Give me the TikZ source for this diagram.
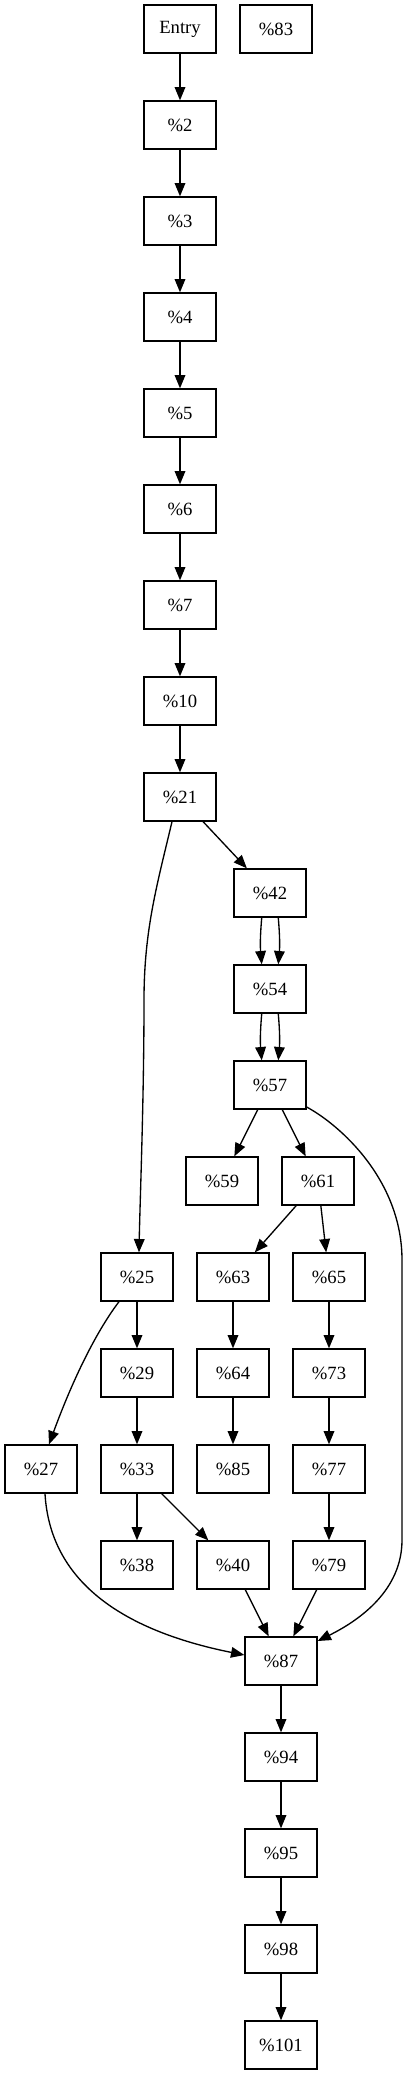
\documentclass[tikz,border=0pt]{standalone}
\usepackage{fontspec}
\setmainfont{Liberation Serif}
\usetikzlibrary{arrows.meta}
\begin{document}
\begin{tikzpicture}[x=0.75pt,y=-0.75pt,
 blk/.style={draw,line width=1pt,minimum width=54pt,minimum height=36pt,inner sep=0pt,font=\fontsize{14pt}{16pt}\selectfont},
 edge/.style={-{Triangle[length=10pt,width=8pt]},line width=1pt}]
\useasboundingbox (0,0) rectangle (409,2075);
\node[blk] (entry) at (180,29) {Entry};
\node[blk] (n83) at (276,29) {\%83};
\node[blk] (n2) at (180,125) {\%2};
\node[blk] (n3) at (180,221) {\%3};
\node[blk] (n4) at (180,317) {\%4};
\node[blk] (n5) at (180,413) {\%5};
\node[blk] (n6) at (180,509) {\%6};
\node[blk] (n7) at (180,605) {\%7};
\node[blk] (n10) at (180,701) {\%10};
\node[blk] (n21) at (180,797) {\%21};
\node[blk] (n42) at (270,893) {\%42};
\node[blk] (n54) at (270,989) {\%54};
\node[blk] (n57) at (270,1085) {\%57};
\node[blk] (n59) at (222,1181) {\%59};
\node[blk] (n61) at (318,1181) {\%61};
\node[blk] (n25) at (137,1277) {\%25};
\node[blk] (n63) at (233,1277) {\%63};
\node[blk] (n65) at (329,1277) {\%65};
\node[blk] (n29) at (137,1373) {\%29};
\node[blk] (n64) at (233,1373) {\%64};
\node[blk] (n73) at (329,1373) {\%73};
\node[blk] (n27) at (41,1469) {\%27};
\node[blk] (n33) at (137,1469) {\%33};
\node[blk] (n85) at (233,1469) {\%85};
\node[blk] (n77) at (329,1469) {\%77};
\node[blk] (n38) at (137,1565) {\%38};
\node[blk] (n40) at (233,1565) {\%40};
\node[blk] (n79) at (329,1565) {\%79};
\node[blk] (n87) at (281,1661) {\%87};
\node[blk] (n94) at (281,1757) {\%94};
\node[blk] (n95) at (281,1853) {\%95};
\node[blk] (n98) at (281,1949) {\%98};
\node[blk] (n101) at (281,2045) {\%101};
\draw[edge] (entry) -- (n2);
\draw[edge] (n2) -- (n3);
\draw[edge] (n3) -- (n4);
\draw[edge] (n4) -- (n5);
\draw[edge] (n5) -- (n6);
\draw[edge] (n6) -- (n7);
\draw[edge] (n7) -- (n10);
\draw[edge] (n10) -- (n21);
\draw[edge] (n21) -- (n42);
\draw[edge] ([xshift=-6pt]n21.south) .. controls (157,885) and (144,930) .. (144,1000) .. controls (144,1100) and (140,1200) .. ([xshift=1.5pt]n25.north);
\draw[edge] ([xshift=-6.2pt]n42.south) to[bend right=5] ([xshift=-6.2pt]n54.north);
\draw[edge] ([xshift=6.2pt]n42.south) to[bend left=5] ([xshift=6.2pt]n54.north);
\draw[edge] ([xshift=-6.2pt]n54.south) to[bend right=5] ([xshift=-6.2pt]n57.north);
\draw[edge] ([xshift=6.2pt]n54.south) to[bend left=5] ([xshift=6.2pt]n57.north);
\draw[edge] (n57) -- (n59);
\draw[edge] (n57) -- (n61);
\draw[edge] ([yshift=2pt]n57.south east) .. controls (340,1125) and (402,1180) .. (402,1260) -- (402,1540) .. controls (402,1590) and (360,1620) .. ([yshift=-3.5pt]n87.north east);
\draw[edge] (n61) -- (n63);
\draw[edge] (n61) -- (n65);
\draw[edge] (n25) -- (n29);
\draw[edge] ([xshift=-13.5pt]n25.south) .. controls (105,1320) and (80,1360) .. ([xshift=6pt]n27.north);
\draw[edge] (n29) -- (n33);
\draw[edge] (n33) -- (n38);
\draw[edge] (n33) -- (n40);
\draw[edge] (n63) -- (n64);
\draw[edge] (n64) -- (n85);
\draw[edge] (n65) -- (n73);
\draw[edge] (n73) -- (n77);
\draw[edge] (n77) -- (n79);
\draw[edge] ([xshift=3pt]n27.south) .. controls (50,1580) and (120,1630) .. ([yshift=4.5pt]n87.west);
\draw[edge] (n40) -- (n87);
\draw[edge] (n79) -- (n87);
\draw[edge] (n87) -- (n94);
\draw[edge] (n94) -- (n95);
\draw[edge] (n95) -- (n98);
\draw[edge] (n98) -- (n101);
\end{tikzpicture}
\end{document}
